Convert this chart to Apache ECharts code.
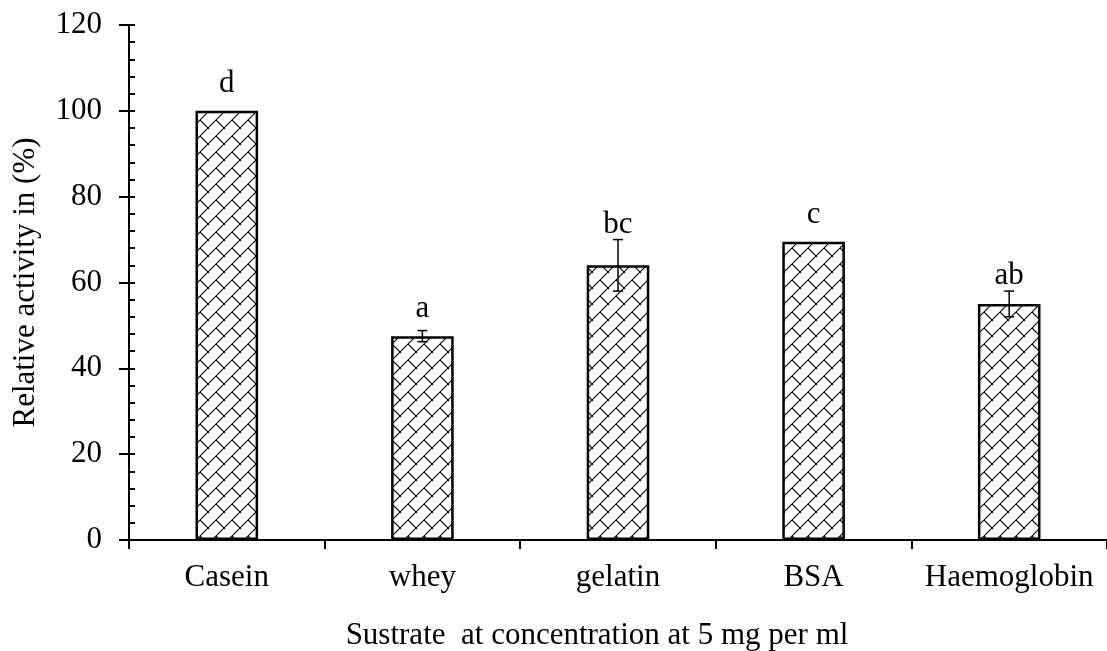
<!DOCTYPE html>
<html>
<head>
<meta charset="utf-8">
<script src="https://cdn.jsdelivr.net/npm/echarts@6/dist/echarts.min.js"></script>
<style>html,body{margin:0;padding:0;background:#fff;}#c{width:1107px;height:651px;}</style>
</head>
<body>
<div id="c"></div>
<script>
var categories = ['Casein', 'whey', 'gelatin', 'BSA', 'Haemoglobin'];
var activity = [100, 47.5, 64, 69.5, 55];
var errors = [0, 1.3, 6, 0, 3];
var letters = ['d', 'a', 'bc', 'c', 'ab'];
var yTicks = [0, 20, 40, 60, 80, 100, 120];
var xTitle = 'Sustrate  at concentration at 5 mg per ml';
var yTitle = 'Relative activity in (%)';

var FONT = "'Liberation Serif','Times New Roman',serif";
var FS = 31;

function makePattern() {
  var s = 16;
  var cv = document.createElement('canvas');
  cv.width = s; cv.height = s;
  var ctx = cv.getContext('2d');
  ctx.fillStyle = '#fff';
  ctx.fillRect(0, 0, s, s);
  ctx.strokeStyle = '#000';
  ctx.lineWidth = 1.1;
  ctx.beginPath();
  ctx.moveTo(-1, s + 1); ctx.lineTo(s + 1, -1);
  ctx.moveTo(s / 2, s / 2); ctx.lineTo(s + 1, s + 1);
  ctx.moveTo(-s / 2, -s / 2); ctx.lineTo(1, 1);
  ctx.stroke();
  return cv;
}

var chart = echarts.init(document.getElementById('c'), null, {renderer: 'canvas'});
var axisColor = '#000';
var option = {
  animation: false,
  backgroundColor: '#fff',
  grid: {left: 129, right: -7, top: 25, bottom: 111, containLabel: false},
  xAxis: {
    type: 'category',
    data: categories,
    axisLine: {lineStyle: {color: axisColor, width: 2}},
    axisTick: {show: true, interval: 0, length: 9, lineStyle: {color: axisColor, width: 2}},
    axisLabel: {interval: 0, color: '#000', fontSize: FS, fontFamily: FONT, margin: 22}
  },
  yAxis: [{
    type: 'value', min: yTicks[0], max: yTicks[yTicks.length - 1], interval: 20,
    axisLine: {show: true, lineStyle: {color: axisColor, width: 2}},
    axisTick: {show: true, length: 10, lineStyle: {color: axisColor, width: 2}},
    splitLine: {show: false},
    axisLabel: {color: '#000', fontSize: FS, fontFamily: FONT, margin: 27},
    name: yTitle,
    nameLocation: 'middle',
    nameGap: 88,
    nameTextStyle: {color: '#000', fontSize: FS, fontFamily: FONT}
  }, {
    type: 'value', min: yTicks[0], max: yTicks[yTicks.length - 1], interval: 20,
    position: 'left', offset: 0,
    axisLine: {show: false},
    axisTick: {show: true, inside: true, length: 6, lineStyle: {color: axisColor, width: 2}},
    minorTick: {show: true, splitNumber: 5, length: 6, lineStyle: {color: axisColor, width: 2}},
    splitLine: {show: false},
    axisLabel: {show: false}
  }],
  graphic: [{
    type: 'text', x: 597, y: 636,
    style: {text: xTitle, fill: '#000', font: FS + 'px ' + FONT, align: 'center', verticalAlign: 'middle'}
  }],
  series: [{
    type: 'bar',
    data: activity,
    barWidth: '32%',
    itemStyle: {
      color: {image: makePattern(), repeat: 'repeat'},
      borderColor: '#000',
      borderWidth: 2.5
    },
    z: 2
  }, {
    type: 'custom',
    data: activity.map(function (v, i) { return [i, v, errors[i]]; }),
    z: 5,
    renderItem: function (params, api) {
      var i = api.value(0), v = api.value(1), e = api.value(2);
      var top = api.coord([i, v + e]);
      var bot = api.coord([i, v - e]);
      var barTop = api.coord([i, v]);
      var w = 5;
      var children = [];
      if (e > 0) {
        children.push({type: 'line', shape: {x1: top[0], y1: top[1], x2: bot[0], y2: bot[1]}, style: {stroke: '#000', lineWidth: 1.5}});
        children.push({type: 'line', shape: {x1: top[0] - w, y1: top[1], x2: top[0] + w, y2: top[1]}, style: {stroke: '#000', lineWidth: 1.5}});
        children.push({type: 'line', shape: {x1: bot[0] - w, y1: bot[1], x2: bot[0] + w, y2: bot[1]}, style: {stroke: '#000', lineWidth: 1.5}});
      }
      var ly = Math.min(barTop[1] - 27, top[1] - 15);
      children.push({type: 'text', x: top[0], y: ly,
        style: {text: letters[params.dataIndex], fill: '#000', font: FS + 'px ' + FONT, align: 'center', verticalAlign: 'middle'}});
      return {type: 'group', children: children};
    }
  }]
};
chart.setOption(option);
</script>
</body>
</html>
